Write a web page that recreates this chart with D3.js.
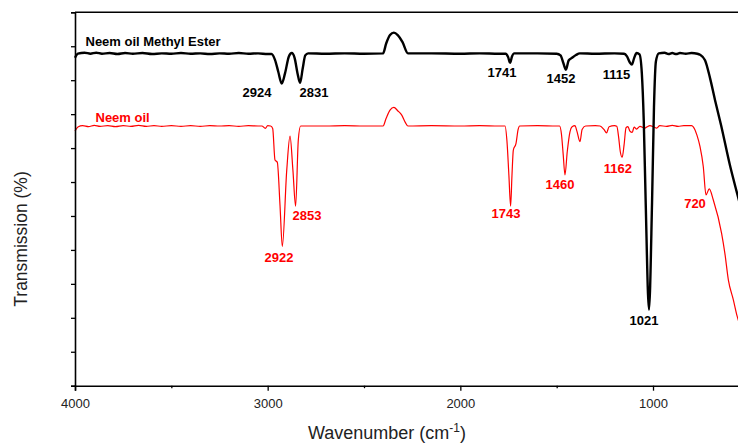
<!DOCTYPE html>
<html>
<head>
<meta charset="utf-8">
<script src="https://cdn.jsdelivr.net/npm/d3@7"></script>
<style>
  body { margin: 0; background: #fff; }
  svg { display: block; font-family: "Liberation Sans", Arial, sans-serif; }
</style>
</head>
<body>
<div id="chart"></div>
<script>
// FTIR spectra, [wavenumber, transmission]
var esterSpectrum = [
  [4000, 96.6], [3985, 97.8], [3950, 98.1], [3920, 97.8], [3890, 98.1], [3860, 97.8],
  [3820, 98.0], [3780, 97.7], [3740, 98.0], [3700, 97.8], [3650, 98.0], [3600, 97.7],
  [3550, 97.9], [3500, 97.8], [3450, 98.0], [3400, 97.8], [3350, 97.9], [3300, 97.7],
  [3250, 97.9], [3200, 97.8], [3150, 98.0], [3100, 97.8], [3050, 97.9], [3000, 97.7],
  [2980, 97.7], [2962, 96.0], [2945, 92.5], [2927, 89.0], [2910, 92.0], [2890, 97.0],
  [2875, 98.0], [2860, 96.5], [2845, 92.0], [2832, 89.2], [2818, 93.5], [2805, 97.3],
  [2790, 97.9], [2700, 97.8], [2600, 97.9], [2500, 97.8], [2401, 97.9], [2385, 100.8],
  [2365, 103.3], [2345, 104.0], [2325, 103.3], [2300, 101.2], [2272, 97.9], [2150, 97.9],
  [2000, 97.8], [1900, 97.9], [1800, 97.8], [1765, 97.8], [1752, 96.8], [1742, 95.1],
  [1732, 97.0], [1720, 97.9], [1600, 97.9], [1500, 97.8], [1480, 97.3], [1465, 95.0],
  [1452, 93.1], [1438, 95.8], [1420, 96.6], [1400, 97.4], [1380, 97.9], [1300, 97.8],
  [1200, 97.9], [1150, 97.8], [1135, 97.0], [1120, 95.2], [1110, 94.6], [1098, 96.5],
  [1085, 98.0], [1070, 97.6], [1058, 92.0], [1048, 78.0], [1038, 54.0], [1021, 22.4],
  [1005, 54.0], [995, 82.0], [985, 95.5], [970, 97.9], [940, 98.1], [920, 97.7],
  [900, 98.0], [880, 97.7], [860, 98.0], [830, 97.8], [800, 98.0], [770, 97.8],
  [756, 97.5], [730, 95.9], [704, 90.6], [678, 84.1], [647, 76.8], [601, 65.0],
  [560, 55.9], [540, 51.5]
];

var oilSpectrum = [
  [4000, 75.0], [3985, 76.2], [3960, 76.6], [3930, 76.3], [3900, 76.7], [3870, 76.4],
  [3830, 76.6], [3790, 76.3], [3750, 76.6], [3710, 76.4], [3670, 76.7], [3630, 76.4],
  [3590, 76.6], [3550, 76.4], [3500, 76.6], [3450, 76.4], [3400, 76.6], [3350, 76.4],
  [3300, 76.6], [3250, 76.5], [3200, 76.6], [3150, 76.4], [3100, 76.6], [3050, 76.5],
  [3030, 76.5], [3012, 75.8], [3000, 76.6], [2985, 76.5], [2974, 75.8], [2962, 66.5],
  [2950, 65.8], [2936, 53.2], [2924, 41.0], [2901, 63.5], [2884, 73.5], [2869, 63.5],
  [2855, 52.9], [2841, 72.4], [2829, 76.5], [2700, 76.5], [2600, 76.6], [2500, 76.5],
  [2401, 76.5], [2385, 78.8], [2365, 81.2], [2345, 82.0], [2325, 81.0], [2304, 79.7],
  [2285, 77.5], [2272, 76.5], [2150, 76.6], [2000, 76.5], [1900, 76.6], [1800, 76.5],
  [1768, 76.5], [1758, 72.0], [1748, 62.0], [1739, 52.9], [1732, 62.0], [1725, 69.4],
  [1711, 71.4], [1700, 75.5], [1692, 76.5], [1600, 76.6], [1500, 76.5], [1485, 76.5],
  [1475, 74.0], [1466, 68.0], [1457, 62.1], [1445, 69.0], [1431, 74.8], [1420, 76.3],
  [1405, 76.6], [1395, 75.0], [1379, 71.9], [1368, 75.5], [1350, 76.5], [1300, 76.6],
  [1275, 76.5], [1255, 75.5], [1241, 74.5], [1228, 76.3], [1200, 76.6], [1188, 76.4],
  [1178, 73.0], [1170, 69.0], [1160, 67.3], [1150, 71.0], [1140, 76.0], [1130, 76.3],
  [1120, 75.0], [1108, 74.6], [1098, 76.2], [1085, 75.6], [1068, 76.4], [1042, 75.9],
  [1030, 76.3], [1016, 76.6], [995, 76.2], [981, 75.9], [965, 76.6], [930, 76.4],
  [900, 76.7], [870, 76.4], [840, 76.6], [800, 76.6], [790, 76.2], [772, 73.8],
  [756, 70.4], [739, 64.5], [725, 56.2], [708, 58.0], [687, 54.7], [644, 44.9],
  [627, 39.0], [609, 31.2], [583, 25.3], [563, 20.4], [540, 16.5]
];

var seriesNames = ["Neem oil Methyl Ester", "Neem oil"];
var esterPeaks = [2924, 2831, 1741, 1452, 1115, 1021];
var oilPeaks = [2922, 2853, 1743, 1460, 1162, 720];
var xTicks = [4000, 3000, 2000, 1000];
var xMinorTicks = [3500, 2500, 1500, 500];
var yTicks = d3.range(0, 111, 10);

var width = 738, height = 444;
var plotLeft = 75, plotTop = 12.3, plotBottom = 385.7;

var x = d3.scaleLinear().domain([4000, 400]).range([plotLeft, plotLeft + 3600 * 0.19267]);
var y = d3.scaleLinear().domain([0, 110]).range([plotBottom, plotTop]);

var svg = d3.select("#chart").append("svg")
  .attr("width", width)
  .attr("height", height);

// label anchors in data units [wavenumber, transmission]
var esterLabelAt = [[3055, 85.0], [2760, 85.0], [1784, 90.9], [1478, 89.1], [1189, 90.4], [1047, 17.8]];
var oilLabelAt = [[2941, 36.5], [2796, 48.8], [1763, 49.4], [1483, 57.9], [1182, 62.6], [782, 52.4]];

var line = d3.line()
  .x(function(d) { return x(d[0]); })
  .y(function(d) { return y(d[1]); })
  .curve(d3.curveMonotoneX);

svg.append("path")
  .datum(oilSpectrum)
  .attr("d", line)
  .attr("fill", "none")
  .attr("stroke", "#ff0000")
  .attr("stroke-width", 1.2);

svg.append("path")
  .datum(esterSpectrum)
  .attr("d", line)
  .attr("fill", "none")
  .attr("stroke", "#000")
  .attr("stroke-width", 2.4)
  .attr("stroke-linejoin", "round");

// axes
var xAxis = svg.append("g")
  .attr("transform", "translate(0," + plotBottom + ")")
  .call(d3.axisBottom(x).tickValues(xTicks).tickSize(5).tickPadding(8).tickFormat(d3.format("d")));

svg.append("g")
  .attr("transform", "translate(0," + plotBottom + ")")
  .call(d3.axisBottom(x).tickValues(xMinorTicks).tickSize(2.5).tickFormat(""))
  .select(".domain").remove();

var yAxis = svg.append("g")
  .attr("transform", "translate(" + plotLeft + ",0)")
  .call(d3.axisLeft(y).tickValues(yTicks).tickSize(4).tickFormat(""));

svg.selectAll(".domain").attr("stroke", "#000").attr("stroke-width", 1.6);
svg.selectAll(".tick line").attr("stroke", "#000").attr("stroke-width", 1.3);
xAxis.selectAll("text").attr("font-size", 13).attr("fill", "#222")
  .attr("font-family", "'Liberation Sans', Arial, sans-serif");

// top frame line
svg.append("line")
  .attr("x1", plotLeft).attr("x2", x(400))
  .attr("y1", y(110)).attr("y2", y(110))
  .attr("stroke", "#000").attr("stroke-width", 1.6);

// axis titles
var xTitle = svg.append("text")
  .attr("x", 387).attr("y", 439)
  .attr("text-anchor", "middle")
  .attr("font-size", 18)
  .attr("fill", "#222")
  .text("Wavenumber (cm");
xTitle.append("tspan").attr("dy", -7).attr("font-size", 12).text("-1");
xTitle.append("tspan").attr("dy", 7).text(")");

svg.append("text")
  .attr("transform", "translate(26.5,239) rotate(-90)")
  .attr("text-anchor", "middle")
  .attr("font-size", 17.5)
  .attr("fill", "#222")
  .text("Transmission (%)");

// series names
svg.append("text")
  .attr("x", 85.5).attr("y", 46)
  .attr("font-size", 13).attr("font-weight", "bold").attr("fill", "#000")
  .text(seriesNames[0]);

svg.append("text")
  .attr("x", 95.5).attr("y", 122)
  .attr("font-size", 13).attr("font-weight", "bold").attr("fill", "#ff0000")
  .text(seriesNames[1]);

// peak labels
svg.selectAll(".ester-peak")
  .data(esterPeaks)
  .enter().append("text")
  .attr("class", "ester-peak")
  .attr("x", function(d, i) { return x(esterLabelAt[i][0]); })
  .attr("y", function(d, i) { return y(esterLabelAt[i][1]); })
  .attr("text-anchor", "middle")
  .attr("font-size", 13).attr("font-weight", "bold").attr("fill", "#000")
  .text(function(d) { return d; });

svg.selectAll(".oil-peak")
  .data(oilPeaks)
  .enter().append("text")
  .attr("class", "oil-peak")
  .attr("x", function(d, i) { return x(oilLabelAt[i][0]); })
  .attr("y", function(d, i) { return y(oilLabelAt[i][1]); })
  .attr("text-anchor", "middle")
  .attr("font-size", 13).attr("font-weight", "bold").attr("fill", "#ff0000")
  .text(function(d) { return d; });
</script>
</body>
</html>
